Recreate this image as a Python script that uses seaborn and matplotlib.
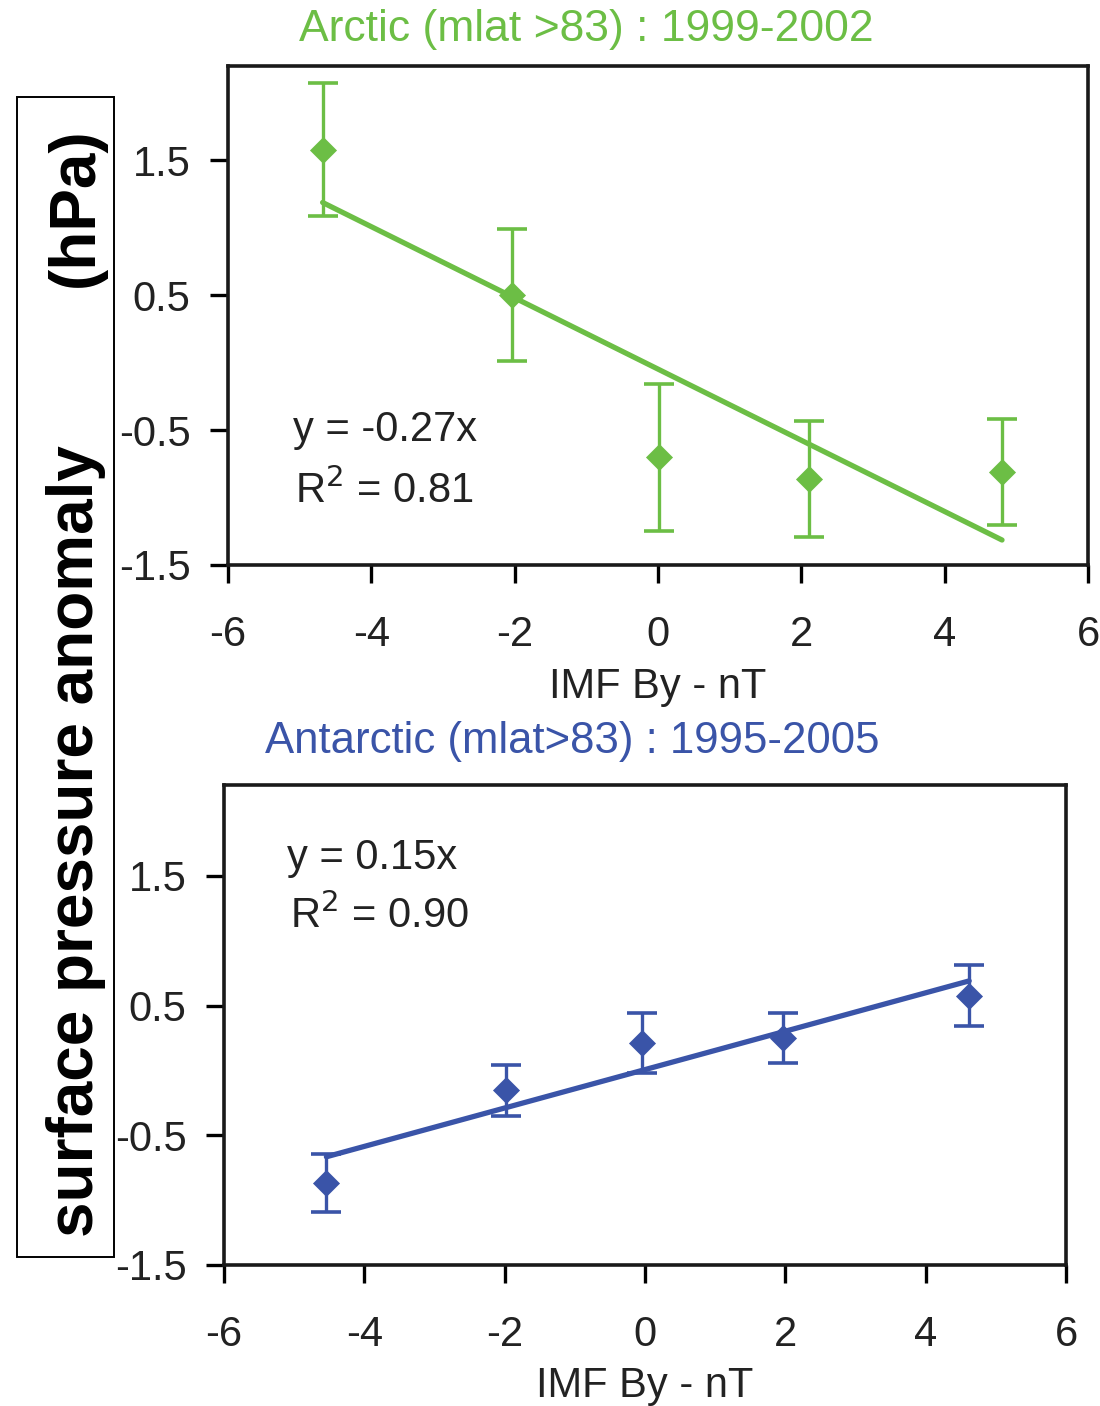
import numpy as np
import pandas as pd
import seaborn as sns
import matplotlib.pyplot as plt
from matplotlib.patches import Rectangle

# Arctic (top panel) - bin centres, mean anomaly, error half-width
arctic_by = [-4.68, -2.04, 0.01, 2.10, 4.80]
arctic_anom = [1.58, 0.50, -0.70, -0.86, -0.81]
arctic_err = [0.49, 0.49, 0.545, 0.43, 0.395]
arctic_slope, arctic_icpt = -0.264, -0.048

# Antarctic (bottom panel)
antarctic_by = [-4.54, -1.98, -0.04, 1.97, 4.62]
antarctic_anom = [-0.87, -0.155, 0.21, 0.25, 0.575]
antarctic_err = [0.225, 0.195, 0.23, 0.195, 0.235]
antarctic_slope, antarctic_icpt = 0.148, 0.006

xticks = [-6, -4, -2, 0, 2, 4, 6]
yticks = [-1.5, -0.5, 0.5, 1.5]

green = "#6cbe45"
blue = "#3a54a8"

sns.set_theme(style="ticks")
plt.rcParams["font.family"] = ["Liberation Sans", "DejaVu Sans"]
plt.rcParams["axes.unicode_minus"] = False

fig = plt.figure(figsize=(11, 14.06), dpi=100)
ax1 = fig.add_axes([0.2073, 0.5982, 0.7818, 0.3549])
ax2 = fig.add_axes([0.2036, 0.1003, 0.7655, 0.3414])


def draw_panel(ax, bx, anom, err, slope, icpt, color, eq, eq_y, label_y):
    df = pd.DataFrame({"by": bx, "anom": anom})
    ax.errorbar(bx, anom, yerr=err, fmt="none", ecolor=color,
                elinewidth=2.4, capsize=11, capthick=2.6, zorder=2)
    sns.scatterplot(data=df, x="by", y="anom", marker="D", s=190,
                    color=color, edgecolor=color, linewidth=0, ax=ax, zorder=3)
    xs = np.array([min(bx), max(bx)])
    fit = pd.DataFrame({"by": xs, "fit": slope * xs + icpt})
    sns.lineplot(data=fit, x="by", y="fit", color=color, linewidth=3.8,
                 ax=ax, zorder=4)
    ax.set_xlim(-6, 6)
    ax.set_ylim(-1.5, 2.2)
    ax.set_xticks(xticks)
    ax.set_yticks(yticks)
    ax.set_xticklabels([str(t) for t in xticks])
    ax.set_yticklabels([str(t) for t in yticks])
    ax.tick_params(axis="both", labelsize=30, length=13, width=2.4,
                   colors="black", labelcolor="#222222")
    ax.tick_params(axis="x", pad=23)
    ax.tick_params(axis="y", pad=14)
    for sp in ax.spines.values():
        sp.set_visible(True)
        sp.set_linewidth(2.6)
        sp.set_color("#1a1a1a")
    ax.set_ylabel("")
    ax.set_xlabel("IMF By - nT", fontsize=30, color="#222222", va="top")
    ax.xaxis.set_label_coords(0.5, label_y)
    ax.text(0.075, eq_y[0], eq[0], transform=ax.transAxes, fontsize=30,
            color="#222222", va="center")
    ax.text(0.078, eq_y[1], eq[1], transform=ax.transAxes, fontsize=30,
            color="#222222", va="center")


draw_panel(ax1, arctic_by, arctic_anom, arctic_err, arctic_slope, arctic_icpt,
           green, ["y = -0.27x", "R$^2$ = 0.81"], [0.271, 0.148], -0.205)
draw_panel(ax2, antarctic_by, antarctic_anom, antarctic_err, antarctic_slope,
           antarctic_icpt, blue, ["y = 0.15x", "R$^2$ = 0.90"], [0.848, 0.727], -0.21)

fig.text(586 / 1100, 1 - 30 / 1406, "Arctic (mlat >83) : 1999-2002",
         color=green, fontsize=32, ha="center", va="center")
fig.text(572 / 1100, 1 - 742 / 1406, "Antarctic (mlat>83) : 1995-2005",
         color=blue, fontsize=31.5, ha="center", va="center")

# boxed y label shared by both panels
fig.patches.append(Rectangle((17 / 1100, 1 - 1257 / 1406), 97 / 1100, 1160 / 1406,
                             transform=fig.transFigure, fill=False,
                             edgecolor="black", linewidth=1.4))
fig.text(93 / 1100, 1 - 841 / 1406, "surface pressure anomaly", rotation=90,
         rotation_mode="anchor", ha="center", va="baseline",
         fontsize=46, fontweight="bold", color="black")
fig.text(93 / 1100, 1 - 207 / 1406, "(hPa)", rotation=90,
         rotation_mode="anchor", ha="center", va="baseline",
         fontsize=46, fontweight="bold", color="black")

fig.savefig("out.png", dpi=100)
